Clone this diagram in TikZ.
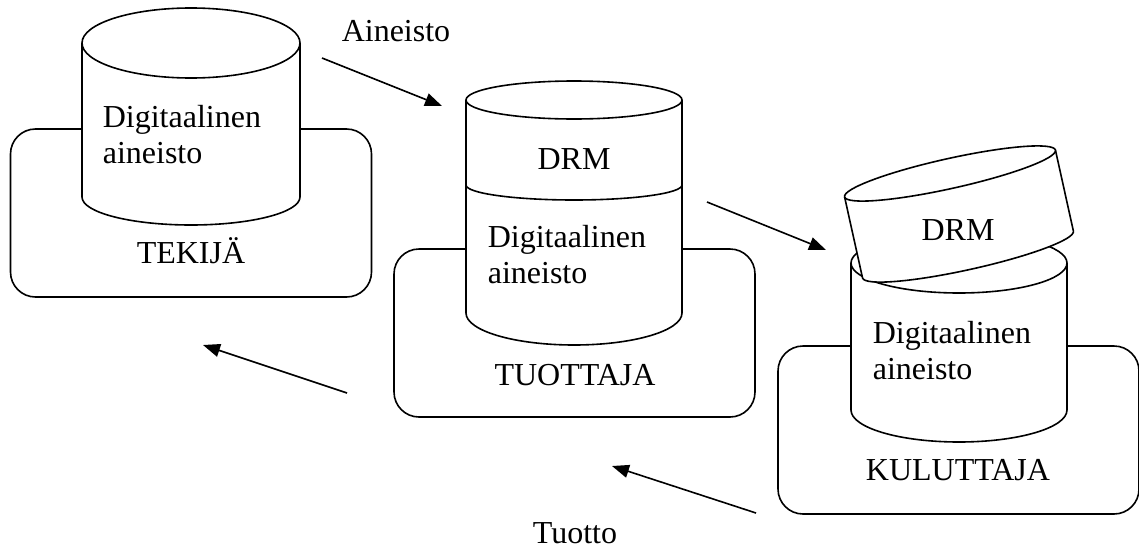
\documentclass[tikz,border=0pt]{standalone}
\usepackage{fontspec}
\setmainfont{Liberation Serif}
\usetikzlibrary{arrows.meta}

\begin{document}
\begin{tikzpicture}[x=1pt,y=-1pt,line width=1.6pt,
	every node/.style={font=\fontsize{32}{36}\selectfont,inner sep=0pt}]
	\tikzstyle{party}=[draw,rounded corners=25pt,minimum width=361pt,minimum height=168pt]
	\tikzstyle{drum}=[draw,fill=white]
	\tikzstyle{flow}=[-{Triangle[length=17pt,width=13pt]}]
	\useasboundingbox (0,0) rectangle (1139,549);
	% osapuolet
	\node[party] (tekija) at (191,213) {};
	\node[party] (tuottaja) at (574.5,333) {};
	\node[party] (kuluttaja) at (958.5,430) {};
	% tekijan aineisto
	\draw[drum] (82,43) -- (82,197) arc[start angle=180,end angle=360,x radius=109pt,y radius=28pt] -- (300,43);
	\draw[drum] (191,43) ellipse[x radius=109pt,y radius=35pt];
	% tuottajan aineisto + DRM
	\draw[drum] (466,100) -- (466,313) arc[start angle=180,end angle=360,x radius=108pt,y radius=32pt] -- (682,100);
	\draw[drum] (574,100) ellipse[x radius=108pt,y radius=19pt];
	\draw (466,185) arc[start angle=180,end angle=360,x radius=108pt,y radius=15pt];
	% kuluttajan aineisto, DRM irti
	\draw[drum] (851,263) -- (851,410) arc[start angle=180,end angle=360,x radius=108pt,y radius=32pt] -- (1067,263);
	\draw[drum] (959,263) ellipse[x radius=108pt,y radius=30pt];
	\begin{scope}[shift={(950,173.5)},rotate=12.5]
		\draw[drum] (-108,0) -- (-108,83) arc[start angle=180,end angle=360,x radius=108pt,y radius=15pt] -- (108,0);
		\draw[drum] (0,0) ellipse[x radius=108pt,y radius=15pt];
	\end{scope}
	% tekstit
	\node[anchor=base west,align=left] (dig1) at (102,163) {Digitaalinen\\aineisto};
	\node[anchor=base] (lbl1) at (191,263) {TEKIJÄ};
	\node[anchor=base] (drm1) at (574,169) {DRM};
	\node[anchor=base west,align=left] (dig2) at (487,283) {Digitaalinen\\aineisto};
	\node[anchor=base] (lbl2) at (575,385) {TUOTTAJA};
	\node[anchor=base] (drm2) at (958,240) {DRM};
	\node[anchor=base west,align=left] (dig3) at (872,379) {Digitaalinen\\aineisto};
	\node[anchor=base] (lbl3) at (958,480) {KULUTTAJA};
	\node[anchor=base] (aineisto) at (396,41) {Aineisto};
	\node[anchor=base] (tuotto) at (575,543) {Tuotto};
	% virrat
	\coordinate (a1) at (322,58);
	\coordinate (b1) at (442,106);
	\coordinate (a2) at (707,202);
	\coordinate (b2) at (826,250);
	\coordinate (a3) at (756,513);
	\coordinate (b3) at (612,466);
	\coordinate (a4) at (347,393);
	\coordinate (b4) at (203,345);
	\draw[flow] (a1) -- (b1);
	\draw[flow] (a2) -- (b2);
	\draw[flow] (a3) -- (b3);
	\draw[flow] (a4) -- (b4);
\end{tikzpicture}
\end{document}
